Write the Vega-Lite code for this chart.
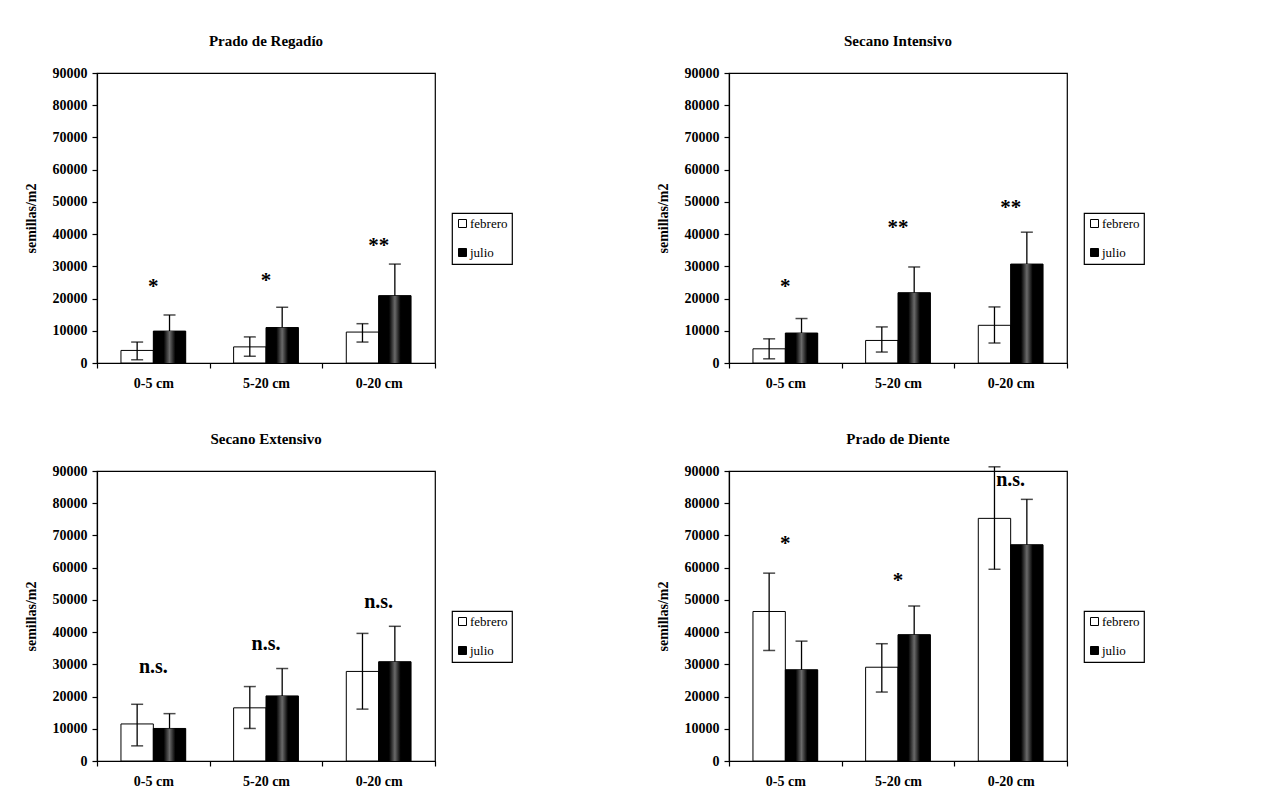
{
  "$schema": "https://vega.github.io/schema/vega-lite/v6.json",
  "background": "white",
  "padding": {"left": 23, "top": 33, "right": 5, "bottom": 5},
  "datasets": {
    "bars": [
      {"panel": "Prado de Regadío", "depth": "0-5 cm", "month": "febrero", "value": 3900, "lo": 1000, "hi": 6500},
      {"panel": "Prado de Regadío", "depth": "0-5 cm", "month": "julio", "value": 9900, "lo": 9900, "hi": 14900},
      {"panel": "Prado de Regadío", "depth": "5-20 cm", "month": "febrero", "value": 5000, "lo": 2100, "hi": 8100},
      {"panel": "Prado de Regadío", "depth": "5-20 cm", "month": "julio", "value": 11000, "lo": 11000, "hi": 17300},
      {"panel": "Prado de Regadío", "depth": "0-20 cm", "month": "febrero", "value": 9600, "lo": 6500, "hi": 12200},
      {"panel": "Prado de Regadío", "depth": "0-20 cm", "month": "julio", "value": 20900, "lo": 20900, "hi": 30700},
      {"panel": "Secano Intensivo", "depth": "0-5 cm", "month": "febrero", "value": 4400, "lo": 1300, "hi": 7500},
      {"panel": "Secano Intensivo", "depth": "0-5 cm", "month": "julio", "value": 9300, "lo": 9300, "hi": 13800},
      {"panel": "Secano Intensivo", "depth": "5-20 cm", "month": "febrero", "value": 7000, "lo": 3400, "hi": 11200},
      {"panel": "Secano Intensivo", "depth": "5-20 cm", "month": "julio", "value": 21800, "lo": 21800, "hi": 29800},
      {"panel": "Secano Intensivo", "depth": "0-20 cm", "month": "febrero", "value": 11700, "lo": 6200, "hi": 17400},
      {"panel": "Secano Intensivo", "depth": "0-20 cm", "month": "julio", "value": 30700, "lo": 30700, "hi": 40600},
      {"panel": "Secano Extensivo", "depth": "0-5 cm", "month": "febrero", "value": 11500, "lo": 4700, "hi": 17600},
      {"panel": "Secano Extensivo", "depth": "0-5 cm", "month": "julio", "value": 10100, "lo": 10100, "hi": 14700},
      {"panel": "Secano Extensivo", "depth": "5-20 cm", "month": "febrero", "value": 16500, "lo": 10100, "hi": 23100},
      {"panel": "Secano Extensivo", "depth": "5-20 cm", "month": "julio", "value": 20200, "lo": 20200, "hi": 28700},
      {"panel": "Secano Extensivo", "depth": "0-20 cm", "month": "febrero", "value": 27800, "lo": 16100, "hi": 39600},
      {"panel": "Secano Extensivo", "depth": "0-20 cm", "month": "julio", "value": 30800, "lo": 30800, "hi": 41800},
      {"panel": "Prado de Diente", "depth": "0-5 cm", "month": "febrero", "value": 46400, "lo": 34300, "hi": 58300},
      {"panel": "Prado de Diente", "depth": "0-5 cm", "month": "julio", "value": 28300, "lo": 28300, "hi": 37200},
      {"panel": "Prado de Diente", "depth": "5-20 cm", "month": "febrero", "value": 29100, "lo": 21400, "hi": 36400},
      {"panel": "Prado de Diente", "depth": "5-20 cm", "month": "julio", "value": 39200, "lo": 39200, "hi": 48100},
      {"panel": "Prado de Diente", "depth": "0-20 cm", "month": "febrero", "value": 75300, "lo": 59500, "hi": 91300},
      {"panel": "Prado de Diente", "depth": "0-20 cm", "month": "julio", "value": 67100, "lo": 67100, "hi": 81200}
    ],
    "sig": [
      {"panel": "Prado de Regadío", "depth": "0-5 cm", "label": "*", "pos": 25600},
      {"panel": "Prado de Regadío", "depth": "5-20 cm", "label": "*", "pos": 27200},
      {"panel": "Prado de Regadío", "depth": "0-20 cm", "label": "**", "pos": 38300},
      {"panel": "Secano Intensivo", "depth": "0-5 cm", "label": "*", "pos": 25600},
      {"panel": "Secano Intensivo", "depth": "5-20 cm", "label": "**", "pos": 43700},
      {"panel": "Secano Intensivo", "depth": "0-20 cm", "label": "**", "pos": 50000},
      {"panel": "Secano Extensivo", "depth": "0-5 cm", "label": "n.s.", "pos": 29300},
      {"panel": "Secano Extensivo", "depth": "5-20 cm", "label": "n.s.", "pos": 36200},
      {"panel": "Secano Extensivo", "depth": "0-20 cm", "label": "n.s.", "pos": 49400},
      {"panel": "Prado de Diente", "depth": "0-5 cm", "label": "*", "pos": 69100},
      {"panel": "Prado de Diente", "depth": "5-20 cm", "label": "*", "pos": 57800},
      {"panel": "Prado de Diente", "depth": "0-20 cm", "label": "n.s.", "pos": 87200}
    ]
  },
  "spacing": 40,
  "resolve": {"scale": {"fill": "independent"}, "legend": {"fill": "independent"}},
  "vconcat": [
    {
      "spacing": 141,
      "resolve": {"scale": {"fill": "independent"}, "legend": {"fill": "independent"}},
      "hconcat": [
        {
          "title": "Prado de Regadío",
          "width": 338, "height": 290,
          "data": {"name": "bars"},
          "transform": [{"filter": "datum.panel === 'Prado de Regadío'"}],
          "layer": [
            {"mark": {"type": "bar", "stroke": "black", "strokeWidth": 1},
             "encoding": {
               "x": {"field": "depth", "type": "nominal", "sort": ["0-5 cm", "5-20 cm", "0-20 cm"], "scale": {"paddingInner": 0, "paddingOuter": 0}, "axis": {"title": null, "labelAngle": 0, "tickBand": "extent"}},
               "xOffset": {"field": "month", "type": "nominal", "sort": ["febrero", "julio"], "scale": {"paddingInner": 0, "paddingOuter": 0.74}},
               "y": {"field": "value", "type": "quantitative", "stack": null, "title": "semillas/m2", "scale": {"domain": [0, 90000], "nice": false}, "axis": {"values": [0, 10000, 20000, 30000, 40000, 50000, 60000, 70000, 80000, 90000], "format": "d", "labelOverlap": false}},
               "fill": {"field": "month", "type": "nominal", "sort": ["febrero", "julio"], "scale": {"domain": ["febrero", "julio"], "range": ["white", "black"]}, "legend": {"title": null, "orient": "none", "legendX": 355, "legendY": 140}}
             }},
            {"transform": [{"filter": "datum.month === 'julio'"}],
             "mark": {"type": "bar", "fill": {"gradient": "linear", "x1": 0, "x2": 1, "y1": 0, "y2": 0, "stops": [{"offset": 0, "color": "black"}, {"offset": 0.32, "color": "black"}, {"offset": 0.5, "color": "#6a6a6a"}, {"offset": 0.68, "color": "black"}, {"offset": 1, "color": "black"}]}},
             "encoding": {
               "x": {"field": "depth", "type": "nominal", "sort": ["0-5 cm", "5-20 cm", "0-20 cm"]},
               "xOffset": {"field": "month", "type": "nominal", "sort": ["febrero", "julio"]},
               "y": {"field": "value", "type": "quantitative", "stack": null, "title": "semillas/m2", "axis": {"values": [0, 10000, 20000, 30000, 40000, 50000, 60000, 70000, 80000, 90000], "format": "d", "labelOverlap": false}}
             }},
            {"mark": {"type": "rule", "color": "black", "strokeWidth": 1.3},
             "encoding": {
               "x": {"field": "depth", "type": "nominal", "sort": ["0-5 cm", "5-20 cm", "0-20 cm"]},
               "xOffset": {"field": "month", "type": "nominal", "sort": ["febrero", "julio"]},
               "y": {"field": "lo", "type": "quantitative", "title": "semillas/m2", "axis": {"values": [0, 10000, 20000, 30000, 40000, 50000, 60000, 70000, 80000, 90000], "format": "d", "labelOverlap": false}},
               "y2": {"field": "hi"}
             }},
            {"mark": {"type": "tick", "color": "black", "thickness": 1.5, "size": 12},
             "encoding": {
               "x": {"field": "depth", "type": "nominal", "sort": ["0-5 cm", "5-20 cm", "0-20 cm"]},
               "xOffset": {"field": "month", "type": "nominal", "sort": ["febrero", "julio"]},
               "y": {"field": "hi", "type": "quantitative", "title": "semillas/m2", "axis": {"values": [0, 10000, 20000, 30000, 40000, 50000, 60000, 70000, 80000, 90000], "format": "d", "labelOverlap": false}}
             }},
            {"transform": [{"filter": "datum.month === 'febrero'"}], "mark": {"type": "tick", "color": "black", "thickness": 1.5, "size": 12},
             "encoding": {
               "x": {"field": "depth", "type": "nominal", "sort": ["0-5 cm", "5-20 cm", "0-20 cm"]},
               "xOffset": {"field": "month", "type": "nominal", "sort": ["febrero", "julio"]},
               "y": {"field": "lo", "type": "quantitative", "title": "semillas/m2", "axis": {"values": [0, 10000, 20000, 30000, 40000, 50000, 60000, 70000, 80000, 90000], "format": "d", "labelOverlap": false}}
             }},
            {"data": {"name": "sig"}, "transform": [{"filter": "datum.panel === 'Prado de Regadío' && datum.label !== 'n.s.'"}], "mark": {"type": "text", "font": "Liberation Serif", "fontWeight": "bold", "fontSize": 21, "baseline": "middle", "dy": 6, "color": "black"},
             "encoding": {
               "x": {"field": "depth", "type": "nominal", "sort": ["0-5 cm", "5-20 cm", "0-20 cm"]},
               "y": {"field": "pos", "type": "quantitative", "title": "semillas/m2", "axis": {"values": [0, 10000, 20000, 30000, 40000, 50000, 60000, 70000, 80000, 90000], "format": "d", "labelOverlap": false}},
               "text": {"field": "label"}
             }},
            {"data": {"name": "sig"}, "transform": [{"filter": "datum.panel === 'Prado de Regadío' && datum.label === 'n.s.'"}], "mark": {"type": "text", "font": "Liberation Serif", "fontWeight": "bold", "fontSize": 20, "baseline": "middle", "color": "black"},
             "encoding": {
               "x": {"field": "depth", "type": "nominal", "sort": ["0-5 cm", "5-20 cm", "0-20 cm"]},
               "y": {"field": "pos", "type": "quantitative", "title": "semillas/m2", "axis": {"values": [0, 10000, 20000, 30000, 40000, 50000, 60000, 70000, 80000, 90000], "format": "d", "labelOverlap": false}},
               "text": {"field": "label"}
             }}
          ]
        },
        {
          "title": "Secano Intensivo",
          "width": 338, "height": 290,
          "data": {"name": "bars"},
          "transform": [{"filter": "datum.panel === 'Secano Intensivo'"}],
          "layer": [
            {"mark": {"type": "bar", "stroke": "black", "strokeWidth": 1},
             "encoding": {
               "x": {"field": "depth", "type": "nominal", "sort": ["0-5 cm", "5-20 cm", "0-20 cm"], "scale": {"paddingInner": 0, "paddingOuter": 0}, "axis": {"title": null, "labelAngle": 0, "tickBand": "extent"}},
               "xOffset": {"field": "month", "type": "nominal", "sort": ["febrero", "julio"], "scale": {"paddingInner": 0, "paddingOuter": 0.74}},
               "y": {"field": "value", "type": "quantitative", "stack": null, "title": "semillas/m2", "scale": {"domain": [0, 90000], "nice": false}, "axis": {"values": [0, 10000, 20000, 30000, 40000, 50000, 60000, 70000, 80000, 90000], "format": "d", "labelOverlap": false}},
               "fill": {"field": "month", "type": "nominal", "sort": ["febrero", "julio"], "scale": {"domain": ["febrero", "julio"], "range": ["white", "black"]}, "legend": {"title": null, "orient": "none", "legendX": 355, "legendY": 140}}
             }},
            {"transform": [{"filter": "datum.month === 'julio'"}],
             "mark": {"type": "bar", "fill": {"gradient": "linear", "x1": 0, "x2": 1, "y1": 0, "y2": 0, "stops": [{"offset": 0, "color": "black"}, {"offset": 0.32, "color": "black"}, {"offset": 0.5, "color": "#6a6a6a"}, {"offset": 0.68, "color": "black"}, {"offset": 1, "color": "black"}]}},
             "encoding": {
               "x": {"field": "depth", "type": "nominal", "sort": ["0-5 cm", "5-20 cm", "0-20 cm"]},
               "xOffset": {"field": "month", "type": "nominal", "sort": ["febrero", "julio"]},
               "y": {"field": "value", "type": "quantitative", "stack": null, "title": "semillas/m2", "axis": {"values": [0, 10000, 20000, 30000, 40000, 50000, 60000, 70000, 80000, 90000], "format": "d", "labelOverlap": false}}
             }},
            {"mark": {"type": "rule", "color": "black", "strokeWidth": 1.3},
             "encoding": {
               "x": {"field": "depth", "type": "nominal", "sort": ["0-5 cm", "5-20 cm", "0-20 cm"]},
               "xOffset": {"field": "month", "type": "nominal", "sort": ["febrero", "julio"]},
               "y": {"field": "lo", "type": "quantitative", "title": "semillas/m2", "axis": {"values": [0, 10000, 20000, 30000, 40000, 50000, 60000, 70000, 80000, 90000], "format": "d", "labelOverlap": false}},
               "y2": {"field": "hi"}
             }},
            {"mark": {"type": "tick", "color": "black", "thickness": 1.5, "size": 12},
             "encoding": {
               "x": {"field": "depth", "type": "nominal", "sort": ["0-5 cm", "5-20 cm", "0-20 cm"]},
               "xOffset": {"field": "month", "type": "nominal", "sort": ["febrero", "julio"]},
               "y": {"field": "hi", "type": "quantitative", "title": "semillas/m2", "axis": {"values": [0, 10000, 20000, 30000, 40000, 50000, 60000, 70000, 80000, 90000], "format": "d", "labelOverlap": false}}
             }},
            {"transform": [{"filter": "datum.month === 'febrero'"}], "mark": {"type": "tick", "color": "black", "thickness": 1.5, "size": 12},
             "encoding": {
               "x": {"field": "depth", "type": "nominal", "sort": ["0-5 cm", "5-20 cm", "0-20 cm"]},
               "xOffset": {"field": "month", "type": "nominal", "sort": ["febrero", "julio"]},
               "y": {"field": "lo", "type": "quantitative", "title": "semillas/m2", "axis": {"values": [0, 10000, 20000, 30000, 40000, 50000, 60000, 70000, 80000, 90000], "format": "d", "labelOverlap": false}}
             }},
            {"data": {"name": "sig"}, "transform": [{"filter": "datum.panel === 'Secano Intensivo' && datum.label !== 'n.s.'"}], "mark": {"type": "text", "font": "Liberation Serif", "fontWeight": "bold", "fontSize": 21, "baseline": "middle", "dy": 6, "color": "black"},
             "encoding": {
               "x": {"field": "depth", "type": "nominal", "sort": ["0-5 cm", "5-20 cm", "0-20 cm"]},
               "y": {"field": "pos", "type": "quantitative", "title": "semillas/m2", "axis": {"values": [0, 10000, 20000, 30000, 40000, 50000, 60000, 70000, 80000, 90000], "format": "d", "labelOverlap": false}},
               "text": {"field": "label"}
             }},
            {"data": {"name": "sig"}, "transform": [{"filter": "datum.panel === 'Secano Intensivo' && datum.label === 'n.s.'"}], "mark": {"type": "text", "font": "Liberation Serif", "fontWeight": "bold", "fontSize": 20, "baseline": "middle", "color": "black"},
             "encoding": {
               "x": {"field": "depth", "type": "nominal", "sort": ["0-5 cm", "5-20 cm", "0-20 cm"]},
               "y": {"field": "pos", "type": "quantitative", "title": "semillas/m2", "axis": {"values": [0, 10000, 20000, 30000, 40000, 50000, 60000, 70000, 80000, 90000], "format": "d", "labelOverlap": false}},
               "text": {"field": "label"}
             }}
          ]
        }
      ]
    },
    {
      "spacing": 141,
      "resolve": {"scale": {"fill": "independent"}, "legend": {"fill": "independent"}},
      "hconcat": [
        {
          "title": "Secano Extensivo",
          "width": 338, "height": 290,
          "data": {"name": "bars"},
          "transform": [{"filter": "datum.panel === 'Secano Extensivo'"}],
          "layer": [
            {"mark": {"type": "bar", "stroke": "black", "strokeWidth": 1},
             "encoding": {
               "x": {"field": "depth", "type": "nominal", "sort": ["0-5 cm", "5-20 cm", "0-20 cm"], "scale": {"paddingInner": 0, "paddingOuter": 0}, "axis": {"title": null, "labelAngle": 0, "tickBand": "extent"}},
               "xOffset": {"field": "month", "type": "nominal", "sort": ["febrero", "julio"], "scale": {"paddingInner": 0, "paddingOuter": 0.74}},
               "y": {"field": "value", "type": "quantitative", "stack": null, "title": "semillas/m2", "scale": {"domain": [0, 90000], "nice": false}, "axis": {"values": [0, 10000, 20000, 30000, 40000, 50000, 60000, 70000, 80000, 90000], "format": "d", "labelOverlap": false}},
               "fill": {"field": "month", "type": "nominal", "sort": ["febrero", "julio"], "scale": {"domain": ["febrero", "julio"], "range": ["white", "black"]}, "legend": {"title": null, "orient": "none", "legendX": 355, "legendY": 140}}
             }},
            {"transform": [{"filter": "datum.month === 'julio'"}],
             "mark": {"type": "bar", "fill": {"gradient": "linear", "x1": 0, "x2": 1, "y1": 0, "y2": 0, "stops": [{"offset": 0, "color": "black"}, {"offset": 0.32, "color": "black"}, {"offset": 0.5, "color": "#6a6a6a"}, {"offset": 0.68, "color": "black"}, {"offset": 1, "color": "black"}]}},
             "encoding": {
               "x": {"field": "depth", "type": "nominal", "sort": ["0-5 cm", "5-20 cm", "0-20 cm"]},
               "xOffset": {"field": "month", "type": "nominal", "sort": ["febrero", "julio"]},
               "y": {"field": "value", "type": "quantitative", "stack": null, "title": "semillas/m2", "axis": {"values": [0, 10000, 20000, 30000, 40000, 50000, 60000, 70000, 80000, 90000], "format": "d", "labelOverlap": false}}
             }},
            {"mark": {"type": "rule", "color": "black", "strokeWidth": 1.3},
             "encoding": {
               "x": {"field": "depth", "type": "nominal", "sort": ["0-5 cm", "5-20 cm", "0-20 cm"]},
               "xOffset": {"field": "month", "type": "nominal", "sort": ["febrero", "julio"]},
               "y": {"field": "lo", "type": "quantitative", "title": "semillas/m2", "axis": {"values": [0, 10000, 20000, 30000, 40000, 50000, 60000, 70000, 80000, 90000], "format": "d", "labelOverlap": false}},
               "y2": {"field": "hi"}
             }},
            {"mark": {"type": "tick", "color": "black", "thickness": 1.5, "size": 12},
             "encoding": {
               "x": {"field": "depth", "type": "nominal", "sort": ["0-5 cm", "5-20 cm", "0-20 cm"]},
               "xOffset": {"field": "month", "type": "nominal", "sort": ["febrero", "julio"]},
               "y": {"field": "hi", "type": "quantitative", "title": "semillas/m2", "axis": {"values": [0, 10000, 20000, 30000, 40000, 50000, 60000, 70000, 80000, 90000], "format": "d", "labelOverlap": false}}
             }},
            {"transform": [{"filter": "datum.month === 'febrero'"}], "mark": {"type": "tick", "color": "black", "thickness": 1.5, "size": 12},
             "encoding": {
               "x": {"field": "depth", "type": "nominal", "sort": ["0-5 cm", "5-20 cm", "0-20 cm"]},
               "xOffset": {"field": "month", "type": "nominal", "sort": ["febrero", "julio"]},
               "y": {"field": "lo", "type": "quantitative", "title": "semillas/m2", "axis": {"values": [0, 10000, 20000, 30000, 40000, 50000, 60000, 70000, 80000, 90000], "format": "d", "labelOverlap": false}}
             }},
            {"data": {"name": "sig"}, "transform": [{"filter": "datum.panel === 'Secano Extensivo' && datum.label !== 'n.s.'"}], "mark": {"type": "text", "font": "Liberation Serif", "fontWeight": "bold", "fontSize": 21, "baseline": "middle", "dy": 6, "color": "black"},
             "encoding": {
               "x": {"field": "depth", "type": "nominal", "sort": ["0-5 cm", "5-20 cm", "0-20 cm"]},
               "y": {"field": "pos", "type": "quantitative", "title": "semillas/m2", "axis": {"values": [0, 10000, 20000, 30000, 40000, 50000, 60000, 70000, 80000, 90000], "format": "d", "labelOverlap": false}},
               "text": {"field": "label"}
             }},
            {"data": {"name": "sig"}, "transform": [{"filter": "datum.panel === 'Secano Extensivo' && datum.label === 'n.s.'"}], "mark": {"type": "text", "font": "Liberation Serif", "fontWeight": "bold", "fontSize": 20, "baseline": "middle", "color": "black"},
             "encoding": {
               "x": {"field": "depth", "type": "nominal", "sort": ["0-5 cm", "5-20 cm", "0-20 cm"]},
               "y": {"field": "pos", "type": "quantitative", "title": "semillas/m2", "axis": {"values": [0, 10000, 20000, 30000, 40000, 50000, 60000, 70000, 80000, 90000], "format": "d", "labelOverlap": false}},
               "text": {"field": "label"}
             }}
          ]
        },
        {
          "title": "Prado de Diente",
          "width": 338, "height": 290,
          "data": {"name": "bars"},
          "transform": [{"filter": "datum.panel === 'Prado de Diente'"}],
          "layer": [
            {"mark": {"type": "bar", "stroke": "black", "strokeWidth": 1},
             "encoding": {
               "x": {"field": "depth", "type": "nominal", "sort": ["0-5 cm", "5-20 cm", "0-20 cm"], "scale": {"paddingInner": 0, "paddingOuter": 0}, "axis": {"title": null, "labelAngle": 0, "tickBand": "extent"}},
               "xOffset": {"field": "month", "type": "nominal", "sort": ["febrero", "julio"], "scale": {"paddingInner": 0, "paddingOuter": 0.74}},
               "y": {"field": "value", "type": "quantitative", "stack": null, "title": "semillas/m2", "scale": {"domain": [0, 90000], "nice": false}, "axis": {"values": [0, 10000, 20000, 30000, 40000, 50000, 60000, 70000, 80000, 90000], "format": "d", "labelOverlap": false}},
               "fill": {"field": "month", "type": "nominal", "sort": ["febrero", "julio"], "scale": {"domain": ["febrero", "julio"], "range": ["white", "black"]}, "legend": {"title": null, "orient": "none", "legendX": 355, "legendY": 140}}
             }},
            {"transform": [{"filter": "datum.month === 'julio'"}],
             "mark": {"type": "bar", "fill": {"gradient": "linear", "x1": 0, "x2": 1, "y1": 0, "y2": 0, "stops": [{"offset": 0, "color": "black"}, {"offset": 0.32, "color": "black"}, {"offset": 0.5, "color": "#6a6a6a"}, {"offset": 0.68, "color": "black"}, {"offset": 1, "color": "black"}]}},
             "encoding": {
               "x": {"field": "depth", "type": "nominal", "sort": ["0-5 cm", "5-20 cm", "0-20 cm"]},
               "xOffset": {"field": "month", "type": "nominal", "sort": ["febrero", "julio"]},
               "y": {"field": "value", "type": "quantitative", "stack": null, "title": "semillas/m2", "axis": {"values": [0, 10000, 20000, 30000, 40000, 50000, 60000, 70000, 80000, 90000], "format": "d", "labelOverlap": false}}
             }},
            {"mark": {"type": "rule", "color": "black", "strokeWidth": 1.3},
             "encoding": {
               "x": {"field": "depth", "type": "nominal", "sort": ["0-5 cm", "5-20 cm", "0-20 cm"]},
               "xOffset": {"field": "month", "type": "nominal", "sort": ["febrero", "julio"]},
               "y": {"field": "lo", "type": "quantitative", "title": "semillas/m2", "axis": {"values": [0, 10000, 20000, 30000, 40000, 50000, 60000, 70000, 80000, 90000], "format": "d", "labelOverlap": false}},
               "y2": {"field": "hi"}
             }},
            {"mark": {"type": "tick", "color": "black", "thickness": 1.5, "size": 12},
             "encoding": {
               "x": {"field": "depth", "type": "nominal", "sort": ["0-5 cm", "5-20 cm", "0-20 cm"]},
               "xOffset": {"field": "month", "type": "nominal", "sort": ["febrero", "julio"]},
               "y": {"field": "hi", "type": "quantitative", "title": "semillas/m2", "axis": {"values": [0, 10000, 20000, 30000, 40000, 50000, 60000, 70000, 80000, 90000], "format": "d", "labelOverlap": false}}
             }},
            {"transform": [{"filter": "datum.month === 'febrero'"}], "mark": {"type": "tick", "color": "black", "thickness": 1.5, "size": 12},
             "encoding": {
               "x": {"field": "depth", "type": "nominal", "sort": ["0-5 cm", "5-20 cm", "0-20 cm"]},
               "xOffset": {"field": "month", "type": "nominal", "sort": ["febrero", "julio"]},
               "y": {"field": "lo", "type": "quantitative", "title": "semillas/m2", "axis": {"values": [0, 10000, 20000, 30000, 40000, 50000, 60000, 70000, 80000, 90000], "format": "d", "labelOverlap": false}}
             }},
            {"data": {"name": "sig"}, "transform": [{"filter": "datum.panel === 'Prado de Diente' && datum.label !== 'n.s.'"}], "mark": {"type": "text", "font": "Liberation Serif", "fontWeight": "bold", "fontSize": 21, "baseline": "middle", "dy": 6, "color": "black"},
             "encoding": {
               "x": {"field": "depth", "type": "nominal", "sort": ["0-5 cm", "5-20 cm", "0-20 cm"]},
               "y": {"field": "pos", "type": "quantitative", "title": "semillas/m2", "axis": {"values": [0, 10000, 20000, 30000, 40000, 50000, 60000, 70000, 80000, 90000], "format": "d", "labelOverlap": false}},
               "text": {"field": "label"}
             }},
            {"data": {"name": "sig"}, "transform": [{"filter": "datum.panel === 'Prado de Diente' && datum.label === 'n.s.'"}], "mark": {"type": "text", "font": "Liberation Serif", "fontWeight": "bold", "fontSize": 20, "baseline": "middle", "color": "black"},
             "encoding": {
               "x": {"field": "depth", "type": "nominal", "sort": ["0-5 cm", "5-20 cm", "0-20 cm"]},
               "y": {"field": "pos", "type": "quantitative", "title": "semillas/m2", "axis": {"values": [0, 10000, 20000, 30000, 40000, 50000, 60000, 70000, 80000, 90000], "format": "d", "labelOverlap": false}},
               "text": {"field": "label"}
             }}
          ]
        }
      ]
    }
  ],
  "config": {
    "font": "Liberation Serif",
    "view": {"stroke": "black", "strokeWidth": 1.2},
    "axis": {
      "grid": false,
      "domainColor": "black", "domainWidth": 1.2,
      "tickColor": "black", "tickSize": 5, "tickWidth": 1.2,
      "labelColor": "black", "labelFont": "Liberation Serif", "labelFontSize": 14, "labelFontWeight": "bold", "labelPadding": 5,
      "titleColor": "black", "titleFont": "Liberation Serif", "titleFontSize": 14, "titleFontWeight": "bold", "titlePadding": 14
    },
    "axisX": {"labelPadding": 8},
    "title": {"font": "Liberation Serif", "fontSize": 15, "fontWeight": "bold", "color": "black", "anchor": "middle", "offset": 17},
    "legend": {
      "strokeColor": "black", "strokeWidth": 1.2, "padding": 4, "rowPadding": 15,
      "symbolType": "square", "symbolSize": 64, "symbolStrokeColor": "black", "symbolStrokeWidth": 1,
      "labelFont": "Liberation Serif", "labelFontSize": 13, "labelColor": "black", "labelOffset": 1
    }
  }
}
